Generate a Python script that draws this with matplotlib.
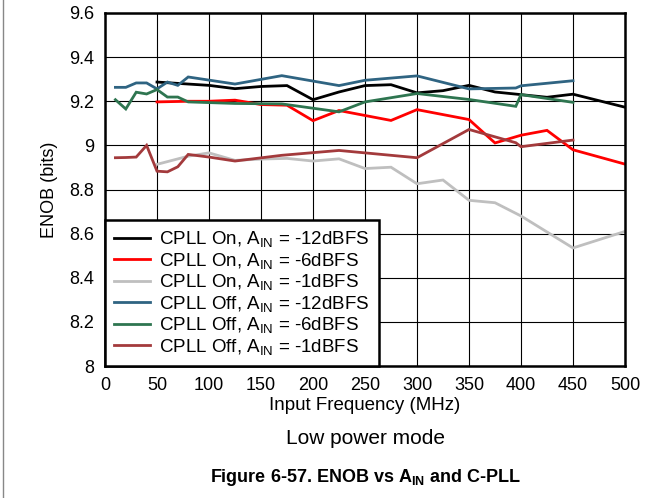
import matplotlib
matplotlib.use("Agg")
import matplotlib.pyplot as plt
from matplotlib.lines import Line2D

plt.rcParams["font.family"] = ["Liberation Sans", "DejaVu Sans"]
plt.rcParams["mathtext.default"] = "regular"

# CPLL On
ON12_F = [50, 80, 100, 125, 150, 175, 200, 225, 250, 275, 300, 325, 350, 375, 400, 425, 450, 500]
ON12_V = [9.287, 9.278, 9.272, 9.257, 9.267, 9.271, 9.207, 9.242, 9.271, 9.275, 9.238, 9.248,
          9.272, 9.242, 9.230, 9.218, 9.232, 9.173]
ON6_F = [50, 80, 100, 125, 150, 175, 200, 225, 275, 300, 350, 375, 400, 425, 450, 500]
ON6_V = [9.197, 9.200, 9.200, 9.205, 9.185, 9.182, 9.112, 9.158, 9.113, 9.162, 9.117, 9.011,
         9.046, 9.068, 8.980, 8.915]
ON1_F = [50, 80, 100, 125, 150, 175, 200, 225, 250, 275, 300, 325, 350, 375, 400, 450, 500]
ON1_V = [8.914, 8.951, 8.966, 8.932, 8.938, 8.941, 8.929, 8.939, 8.895, 8.901, 8.826, 8.843,
         8.751, 8.740, 8.680, 8.535, 8.610]
# CPLL Off
OFF12_F = [10, 20, 30, 40, 50, 60, 70, 80, 125, 170, 225, 250, 300, 350, 395, 400, 450]
OFF12_V = [9.263, 9.263, 9.283, 9.283, 9.256, 9.287, 9.272, 9.310, 9.278, 9.316, 9.271, 9.295,
           9.315, 9.256, 9.260, 9.270, 9.293]
OFF6_F = [10, 20, 30, 40, 50, 60, 70, 80, 125, 170, 225, 250, 300, 350, 395, 400, 450]
OFF6_V = [9.207, 9.165, 9.241, 9.233, 9.253, 9.219, 9.219, 9.197, 9.190, 9.188, 9.152, 9.197,
          9.235, 9.208, 9.177, 9.230, 9.195]
OFF1_F = [10, 20, 30, 40, 50, 60, 70, 80, 100, 125, 170, 225, 300, 350, 395, 400, 450]
OFF1_V = [8.944, 8.945, 8.947, 9.000, 8.883, 8.880, 8.903, 8.959, 8.947, 8.929, 8.955, 8.977,
          8.944, 9.072, 9.012, 8.994, 9.024]

SERIES = [
    (ON12_F, ON12_V, "#000000", "CPLL On, A$_{IN}$ = -12dBFS"),
    (ON6_F, ON6_V, "#ff0000", "CPLL On, A$_{IN}$ = -6dBFS"),
    (ON1_F, ON1_V, "#bfbfbf", "CPLL On, A$_{IN}$ = -1dBFS"),
    (OFF12_F, OFF12_V, "#2f6482", "CPLL Off, A$_{IN}$ = -12dBFS"),
    (OFF6_F, OFF6_V, "#2e7550", "CPLL Off, A$_{IN}$ = -6dBFS"),
    (OFF1_F, OFF1_V, "#a33a3c", "CPLL Off, A$_{IN}$ = -1dBFS"),
]

fig = plt.figure(figsize=(6.62, 4.98), dpi=100)
ax = fig.add_axes([105 / 662, 1 - 366 / 498, 520 / 662, 353 / 498])

for f, v, c, lab in SERIES:
    ax.plot(f, v, color=c, lw=2.0, label=lab, solid_joinstyle="miter")

ax.set_xlim(0, 500)
ax.set_ylim(8, 9.6)
ax.set_xticks(range(0, 501, 50))
ax.set_yticks([8, 8.2, 8.4, 8.6, 8.8, 9, 9.2, 9.4, 9.6])
ax.set_yticklabels(["8", "8.2", "8.4", "8.6", "8.8", "9", "9.2", "9.4", "9.6"])
ax.grid(True, color="black", lw=0.8)
ax.set_axisbelow(True)
ax.tick_params(length=0, labelsize=13, pad=8)
for s in ax.spines.values():
    s.set_linewidth(1.8)
ax.set_xlabel("Input Frequency (MHz)", fontsize=13.5, labelpad=2)
ax.set_ylabel("ENOB (bits)", fontsize=13, labelpad=8)

leg = ax.legend(loc="lower left", bbox_to_anchor=(0, 0), fontsize=13.5, frameon=True,
                fancybox=False, borderaxespad=0, handlelength=1.9, handletextpad=0.5,
                labelspacing=0.08, borderpad=0.5)
leg.get_frame().set_edgecolor("black")
leg.get_frame().set_linewidth(1.8)
leg.get_frame().set_alpha(1)

fig.text(365 / 662, 1 - 438 / 498, "Low power mode", ha="center", va="center", fontsize=15)
fig.text(365 / 662, 1 - 478 / 498, "Figure 6-57. ENOB vs A$_{IN}$ and C-PLL",
         ha="center", va="center", fontsize=13, fontweight="bold")
fig.add_artist(Line2D([3 / 662, 3 / 662], [0, 1], transform=fig.transFigure,
                      color="#888888", lw=1))

fig.savefig("out.png", dpi=100)
